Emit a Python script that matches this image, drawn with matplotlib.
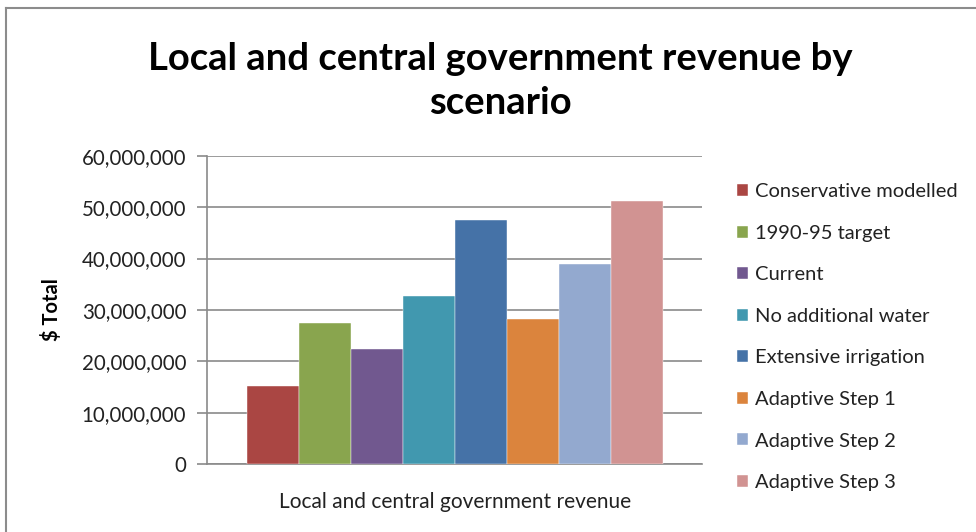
import matplotlib
matplotlib.use("Agg")
import matplotlib.pyplot as plt
from matplotlib.lines import Line2D
from matplotlib.ticker import FuncFormatter

plt.rcParams['font.family'] = ['Lato', 'DejaVu Sans']

scenarios = ["Conservative modelled", "1990-95 target", "Current",
             "No additional water", "Extensive irrigation",
             "Adaptive Step 1", "Adaptive Step 2", "Adaptive Step 3"]
revenue = [15_300_000, 27_400_000, 22_500_000, 32_800_000,
           47_500_000, 28_200_000, 39_000_000, 51_200_000]
colors = ["#AA4643", "#89A54E", "#71588F", "#4198AF",
          "#4572A7", "#DB843D", "#93A9CF", "#D19392"]
category = "Local and central government revenue"
yticks = [0, 10_000_000, 20_000_000, 30_000_000, 40_000_000, 50_000_000, 60_000_000]

W, H = 976, 532
fig = plt.figure(figsize=(W / 100, H / 100), dpi=100)

# chart frame
fig.add_artist(Line2D([6 / W, 6 / W], [0, 1 - 8 / H], color="#8c8c8c", lw=1.5,
                      transform=fig.transFigure))
fig.add_artist(Line2D([6 / W, 1], [1 - 8 / H, 1 - 8 / H], color="#8c8c8c", lw=1.5,
                      transform=fig.transFigure))

ax = fig.add_axes([207 / W, 1 - 464.3 / H, (702 - 207) / W, (464.3 - 155.7) / H])

n = len(revenue)
offsets = [i - (n - 1) / 2 for i in range(n)]
for off, val, col, name in zip(offsets, revenue, colors, scenarios):
    ax.bar(off, val, width=1.0, color=col, label=name, zorder=3,
           edgecolor="white", linewidth=0.3)

ax.set_xlim(-4.77, 4.76)
ax.set_ylim(0, 60_000_000)
ax.set_yticks(yticks)
ax.yaxis.set_major_formatter(FuncFormatter(lambda v, p: f"{int(v):,}"))
ax.grid(axis="y", color="#8a8a8a", lw=1.2, zorder=0)
ax.set_xticks([0])
ax.set_xticklabels([category], fontsize=15, color="#222222")
ax.tick_params(axis="x", length=0, pad=20)
ax.tick_params(axis="y", length=7, color="#8a8a8a", width=1.2,
               labelsize=14.8, labelcolor="#222222", pad=8)
for s in ("top", "right"):
    ax.spines[s].set_visible(False)
ax.spines["left"].set_color("#8a8a8a")
ax.spines["left"].set_linewidth(1.2)
ax.spines["bottom"].set_color("#8a8a8a")
ax.spines["bottom"].set_linewidth(1.2)

ax.set_ylabel("$ Total", fontsize=14.5, fontweight="bold")
ax.yaxis.set_label_coords(-0.293, 0.5)

fig.text(500 / W, 1 - 81 / H, "Local and central government revenue by\nscenario",
         ha="center", va="center", fontsize=27.5, fontweight="bold",
         linespacing=1.38)

handles, labels = ax.get_legend_handles_labels()
fig.legend(handles, labels, loc="upper left", bbox_to_anchor=(719 / W, 1 - 165 / H),
           frameon=False, fontsize=14.5, handlelength=0.55, handleheight=0.55,
           handletextpad=0.35, labelspacing=1.22, labelcolor="#222222")

fig.savefig("out.png", dpi=100)
